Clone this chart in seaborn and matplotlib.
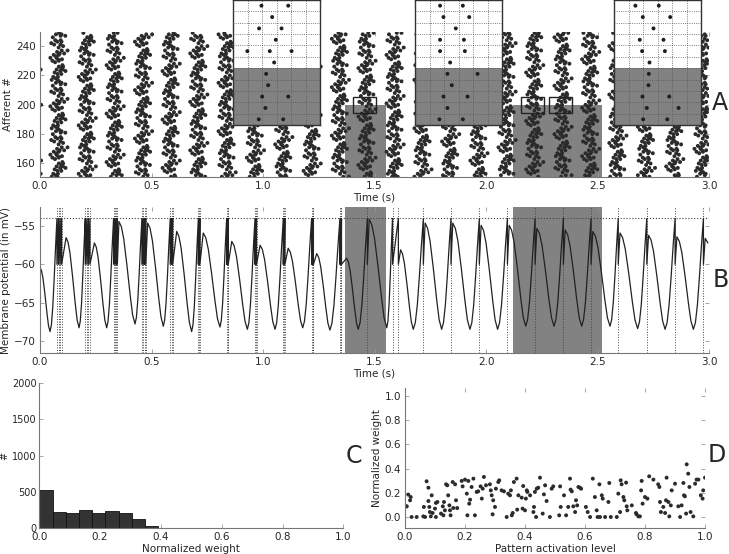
import numpy as np
import pandas as pd
import matplotlib
matplotlib.use('Agg')
import matplotlib.pyplot as plt
import seaborn as sns
from matplotlib.patches import Rectangle

sns.set_theme(style='ticks')
plt.rcParams['font.family'] = ['DejaVu Sans']
plt.rcParams['axes.linewidth'] = 0.8

# ---- panel B: postsynaptic spikes and membrane potential ----
spike_times = [
    [0.076, 0.083, 0.090, 0.097], [0.203, 0.210, 0.217, 0.224],
    [0.330, 0.336, 0.342, 0.347], [0.457, 0.463, 0.469, 0.474],
    [0.584, 0.590, 0.595], [0.710, 0.714, 0.717], [0.837, 0.841, 0.844],
    [0.964, 0.968, 0.971], [1.091, 1.095, 1.098], [1.218, 1.222, 1.226],
    [1.345, 1.349, 1.352], [1.468], [1.581, 1.607], [1.719], [1.843],
    [1.970], [2.096], [2.220], [2.347], [2.471], [2.593], [2.721],
    [2.848], [2.975],
]
bump_t = [0.117, 0.244, 0.354, 0.483, 0.613, 0.732, 0.860, 0.987, 1.113, 1.241,
          1.375, 1.476, 1.617, 1.727, 1.851, 1.978, 2.104, 2.228, 2.355, 2.479,
          2.601, 2.729, 2.856, 2.983]
bump_v = [-56.5, -57.2, -54.4, -54.6, -55.7, -55.9, -57.0, -57.5, -57.9, -58.6,
          -59.2, -54.1, -58.1, -54.6, -54.6, -54.9, -54.9, -55.3, -55.5, -55.7,
          -55.9, -56.2, -56.4, -56.6]
trough_t = [0.045, 0.175, 0.299, 0.426, 0.553, 0.680, 0.807, 0.930, 1.054, 1.178,
            1.300, 1.427, 1.555, 1.674, 1.801, 1.928, 2.052, 2.178, 2.305, 2.429,
            2.556, 2.680, 2.803, 2.930]
trough_v = [-68.8, -68.3, -68.3, -67.8, -68.1, -68.8, -68.2, -68.5, -68.5, -68.3,
            -68.6, -68.5, -68.3, -68.5, -68.5, -68.5, -68.5, -68.1, -68.1, -68.1,
            -68.1, -68.4, -68.5, -68.5]
v_start = -60.4
v_end = (2.995, -57.2)
threshold = -54.0
reset = -60.0
# shape of one rising / falling flank (time fraction, level fraction)
rise_shape = [(0.0, 0.0), (0.2, 0.06), (0.4, 0.22), (0.6, 0.47), (0.8, 0.75), (1.0, 1.0)]
fall_shape = [(0.0, 0.0), (0.15, 0.05), (0.3, 0.17), (0.5, 0.43), (0.7, 0.72), (0.85, 0.91), (1.0, 1.0)]

# ---- panel A: afferent raster ----
pattern_windows = [(1.368, 1.552), (2.121, 2.520)]
pattern_top = 200
zoom_box_left = [1.404, 2.157, 2.283]
zoom_box_width = 0.103
zoom_box_rows = (194.6, 205.4)
# spike offsets (ms) around the burst centre, one entry per afferent (NaN = silent)
burst_first_ms = [-34, -16, -27, np.nan, -8, -21, 4, -12, 9, -2, 14, np.nan, -19, -31, -6,
                  -40, -14, -25, 2, -10, 11, np.nan, -3, 17, -23, -36, -9, -18, np.nan,
                  -29, 6, -15, -1]
burst_gap_ms = [26, np.nan, 21, 30, 17, np.nan, 24, 28, np.nan, 19, np.nan, 22, np.nan, 29,
                18, 27, np.nan, 23, 20, np.nan, 26, 16, np.nan, np.nan, 28, np.nan, 19, 24,
                30, np.nan, 21, 25, np.nan]
cycle_shift = [0, 13, 5, 22, 9, 30, 17, 2, 26, 11, 20, 7, 31, 15, 24, 4, 28, 10, 19, 1, 25, 14, 8, 29]
stray_t = [0.003, 0.005, 0.005, 0.003]
stray_aff = [224, 200, 162, 153]

# ---- zoom insets: spike positions (fraction of window) per row, top to bottom ----
inset_rows = [
    [[0.327, 0.635], [0.45], [0.30, 0.558], [0.492], [0.165, 0.423, 0.673], [0.473],
     [0.381], [0.404], [0.335, 0.635], [0.373], [0.296, 0.577]],
    [[0.288, 0.55], [0.327, 0.623], [0.469], [0.288, 0.562], [0.288, 0.573], [0.404],
     [0.373, 0.719], [0.423], [0.327, 0.604], [0.373], [0.281, 0.55]],
    [[0.246, 0.515], [0.331, 0.646], [0.454], [0.296, 0.569], [0.323, 0.585], [0.408],
     [0.40], [0.396], [0.327, 0.635], [0.377, 0.742], [0.335, 0.612]],
]
inset_left_px = [233, 415, 614]

# ---- panel C: histogram of normalized weights ----
hist_edges = [i / 23 for i in range(24)]
hist_counts = [523, 224, 206, 243, 206, 234, 201, 121, 33, 5]

# ---- panel D: weight vs pattern activation ----
act = [0.003, 0.006, 0.011, 0.019, 0.017, 0.022, 0.039, 0.061, 0.067, 0.063, 0.072, 0.078,
       0.078, 0.081, 0.083, 0.089, 0.086, 0.092, 0.100, 0.103, 0.103, 0.108, 0.120, 0.126,
       0.128, 0.130, 0.133, 0.137, 0.141, 0.144, 0.148, 0.150, 0.152, 0.159, 0.161, 0.167,
       0.170, 0.174, 0.189, 0.192, 0.200, 0.206, 0.208, 0.211, 0.214, 0.217, 0.222, 0.228,
       0.233, 0.239, 0.244, 0.252, 0.256, 0.259, 0.263, 0.270, 0.283, 0.286, 0.289, 0.292,
       0.294, 0.300, 0.303, 0.311, 0.314, 0.322, 0.330, 0.339, 0.344, 0.350, 0.353, 0.356,
       0.359, 0.363, 0.372, 0.374, 0.378, 0.389, 0.392, 0.394, 0.400, 0.403, 0.406, 0.408,
       0.417, 0.428, 0.430, 0.433, 0.437, 0.439, 0.444, 0.450, 0.459, 0.463, 0.467, 0.472,
       0.483, 0.489, 0.494, 0.514, 0.517, 0.519, 0.530, 0.537, 0.544, 0.550, 0.552, 0.556,
       0.561, 0.567, 0.570, 0.574, 0.578, 0.583, 0.587, 0.603, 0.609, 0.617, 0.626, 0.633,
       0.639, 0.642, 0.648, 0.650, 0.656, 0.659, 0.667, 0.678, 0.681, 0.686, 0.706, 0.711,
       0.717, 0.719, 0.722, 0.728, 0.731, 0.737, 0.739, 0.741, 0.756, 0.770, 0.772, 0.778,
       0.783, 0.787, 0.789, 0.792, 0.800, 0.808, 0.814, 0.828, 0.844, 0.848, 0.850, 0.853,
       0.861, 0.867, 0.870, 0.872, 0.878, 0.881, 0.886, 0.889, 0.900, 0.911, 0.917, 0.922,
       0.928, 0.930, 0.933, 0.937, 0.939, 0.944, 0.948, 0.952, 0.961, 0.967, 0.972, 0.978,
       0.986, 0.992, 0.994, 1.000]
wgt = [0.088, 0.088, 0.185, 0.165, 0.138, 0.000, 0.000, 0.005, 0.000, 0.083, 0.295, 0.242,
       0.132, 0.083, 0.041, 0.179, 0.005, 0.033, 0.069, 0.000, 0.116, 0.124, 0.028, 0.088,
       0.014, 0.124, 0.055, 0.270, 0.262, 0.179, 0.096, 0.055, 0.014, 0.289, 0.074, 0.270,
       0.138, 0.074, 0.298, 0.253, 0.309, 0.193, 0.014, 0.298, 0.110, 0.143, 0.248, 0.317,
       0.014, 0.207, 0.212, 0.253, 0.152, 0.234, 0.331, 0.262, 0.270, 0.220, 0.179, 0.022,
       0.138, 0.083, 0.234, 0.289, 0.303, 0.220, 0.212, 0.000, 0.193, 0.179, 0.220, 0.014,
       0.033, 0.289, 0.317, 0.061, 0.179, 0.160, 0.069, 0.256, 0.055, 0.152, 0.220, 0.207,
       0.179, 0.041, 0.083, 0.207, 0.000, 0.234, 0.242, 0.325, 0.028, 0.187, 0.262, 0.132,
       0.000, 0.234, 0.253, 0.014, 0.253, 0.083, 0.179, 0.014, 0.083, 0.317, 0.226, 0.212,
       0.088, 0.041, 0.138, 0.096, 0.248, 0.242, 0.234, 0.083, 0.041, 0.000, 0.317, 0.165,
       0.055, 0.000, 0.270, 0.000, 0.179, 0.152, 0.000, 0.124, 0.281, 0.000, 0.000, 0.193,
       0.041, 0.303, 0.270, 0.165, 0.138, 0.284, 0.088, 0.055, 0.096, 0.033, 0.022, 0.005,
       0.005, 0.220, 0.298, 0.110, 0.165, 0.152, 0.336, 0.309, 0.270, 0.248, 0.124, 0.041,
       0.083, 0.033, 0.138, 0.325, 0.124, 0.005, 0.096, 0.220, 0.275, 0.088, 0.000, 0.096,
       0.281, 0.179, 0.171, 0.028, 0.435, 0.358, 0.248, 0.041, 0.005, 0.275, 0.309, 0.309,
       0.179, 0.152, 0.220, 0.325]

W, H = 729, 554
DOT = '#2b2b2b'
GRAY = '#828282'
SPINE = '#777777'
FS = 7.5


def px_rect(left, top, right, bottom):
    return [left / W, (H - bottom) / H, (right - left) / W, (bottom - top) / H]


def style_axes(ax, mirror=True):
    for s in ['top', 'right']:
        ax.spines[s].set_visible(False)
    for s in ['left', 'bottom']:
        ax.spines[s].set_color(SPINE)
    ax.tick_params(direction='in', length=3, width=0.6, color='#999999',
                   labelsize=FS, pad=3, top=mirror, right=mirror)


def flank(t0, v0, t1, v1, shape):
    return [(t0 + f * (t1 - t0), v0 + g * (v1 - v0)) for f, g in shape]


fig = plt.figure(figsize=(W / 100, H / 100), dpi=100)

# ================= A =================
axA = fig.add_axes(px_rect(40, 32, 709, 177))
afferents = np.arange(151, 250)
rt, ra = list(stray_t), list(stray_aff)
for c, spikes in enumerate(spike_times):
    center = np.mean(spikes)
    for k, aff in enumerate(afferents):
        j = (k + cycle_shift[c]) % len(burst_first_ms)
        if np.isnan(burst_first_ms[j]):
            continue
        t1 = center + burst_first_ms[j] / 1000
        rt.append(t1)
        ra.append(aff)
        if not np.isnan(burst_gap_ms[j]):
            rt.append(t1 + burst_gap_ms[j] / 1000)
            ra.append(aff)
raster = pd.DataFrame({'t': rt, 'aff': ra})
raster = raster[(raster.t >= 0) & (raster.t <= 3.0)]
for a, b in pattern_windows:
    axA.add_patch(Rectangle((a, 150), b - a, pattern_top - 150, color=GRAY, lw=0, zorder=0.5))
sns.scatterplot(data=raster, x='t', y='aff', ax=axA, s=8, color=DOT, edgecolor='none', zorder=2)
for left in zoom_box_left:
    axA.add_patch(Rectangle((left, zoom_box_rows[0]), zoom_box_width,
                            zoom_box_rows[1] - zoom_box_rows[0], fill=False,
                            edgecolor='#222222', lw=1.0, zorder=3))
axA.set_xlim(0, 3.0)
axA.set_ylim(150.8, 249.6)
axA.set_xticks(np.arange(0, 3.01, 0.5))
axA.set_yticks([160, 180, 200, 220, 240])
axA.set_xlabel('Time (s)', fontsize=FS, labelpad=1)
axA.set_ylabel('Afferent #', fontsize=FS, labelpad=2)
style_axes(axA)

# ================= B =================
axB = fig.add_axes(px_rect(40, 207, 709, 353))
pts = [(0.0, v_start)]
pts += flank(0.0, v_start, trough_t[0], trough_v[0], fall_shape)[1:]
for c, spikes in enumerate(spike_times):
    pts += flank(trough_t[c], trough_v[c], spikes[0], threshold, rise_shape)[1:]
    for j, ts in enumerate(spikes):
        pts.append((ts, threshold))
        pts.append((ts, reset))
        if j + 1 < len(spikes):
            pts.append((spikes[j + 1], threshold))
    pts.append((bump_t[c], bump_v[c]))
    if c + 1 < len(spike_times):
        pts += flank(bump_t[c], bump_v[c], trough_t[c + 1], trough_v[c + 1], fall_shape)[1:]
    else:
        pts.append(v_end)
trace = pd.DataFrame(pts, columns=['t', 'v'])
for a, b in pattern_windows:
    axB.axvspan(a, b, color=GRAY, lw=0, zorder=0.5)
for spikes in spike_times:
    for ts in spikes:
        axB.axvline(ts, color='#444444', ls=':', lw=0.7, zorder=1)
axB.axhline(threshold, color='#444444', ls=':', lw=0.8, zorder=1)
sns.lineplot(data=trace, x='t', y='v', ax=axB, sort=False, estimator=None,
             color='#222222', lw=0.9, zorder=2)
axB.set_xlim(0, 3.0)
axB.set_ylim(-71.6, -52.5)
axB.set_xticks(np.arange(0, 3.01, 0.5))
axB.set_yticks([-70, -65, -60, -55])
axB.set_xlabel('Time (s)', fontsize=FS, labelpad=1)
axB.set_ylabel('Membrane potential (in mV)', fontsize=FS, labelpad=2)
style_axes(axB)

# ================= insets =================
for left, rows in zip(inset_left_px, inset_rows):
    axi = fig.add_axes(px_rect(left, 0, left + 87, 125))
    xs, ys = [], []
    for r, row in enumerate(rows, start=1):
        for x in row:
            xs.append(x)
            ys.append(r)
    axi.axhspan(6.5, 11.5, color=GRAY, lw=0, zorder=0.2)
    sns.scatterplot(x=xs, y=ys, ax=axi, s=8, color='#1e1e1e', edgecolor='none', zorder=3)
    axi.set_xlim(0, 1)
    axi.set_ylim(11.5, 0.5)
    axi.set_xticks(np.arange(1, 6) / 6)
    axi.set_yticks(np.arange(1.5, 11, 1))
    axi.set_axisbelow(False)
    axi.grid(True, ls=':', lw=0.6, color='#555555')
    axi.tick_params(length=0, labelbottom=False, labelleft=False)
    axi.set_xlabel('')
    axi.set_ylabel('')
    for s in axi.spines.values():
        s.set_visible(True)
        s.set_color('#333333')
        s.set_linewidth(1.0)

# ================= C =================
axC = fig.add_axes(px_rect(39.3, 383, 343.3, 528))
hist_df = pd.DataFrame({
    'w': [(hist_edges[i] + hist_edges[i + 1]) / 2 for i in range(len(hist_counts))],
    'n': hist_counts,
})
sns.histplot(data=hist_df, x='w', weights='n', bins=hist_edges, ax=axC,
             color='#333333', edgecolor='#111111', linewidth=0.6, alpha=1)
axC.set_xlim(0, 1)
axC.set_ylim(0, 2000)
axC.set_xticks(np.arange(0, 1.01, 0.2))
axC.set_yticks([0, 500, 1000, 1500, 2000])
axC.set_xlabel('Normalized weight', fontsize=FS, labelpad=1)
axC.set_ylabel('#', fontsize=7)
axC.yaxis.set_label_coords(-0.1, 0.5)
style_axes(axC, mirror=False)
axC.tick_params(axis='y', labelsize=7, pad=2)

# ================= D =================
axD = fig.add_axes(px_rect(405, 388, 705, 528))
sns.scatterplot(x=act, y=wgt, ax=axD, s=8, color=DOT, edgecolor='none')
axD.set_xlim(0, 1)
axD.set_ylim(-0.091, 1.066)
axD.set_xticks(np.arange(0, 1.01, 0.2))
axD.set_yticks(np.arange(0, 1.01, 0.2))
axD.set_xlabel('Pattern activation level', fontsize=FS, labelpad=1)
axD.set_ylabel('Normalized weight', fontsize=FS, labelpad=2)
style_axes(axD)

for lab, x, y in [('A', 720, 103), ('B', 721, 280), ('C', 354, 456), ('D', 717, 455)]:
    fig.text(x / W, 1 - y / H, lab, fontsize=17, ha='center', va='center')

fig.savefig('out.png', dpi=100, facecolor='w')
